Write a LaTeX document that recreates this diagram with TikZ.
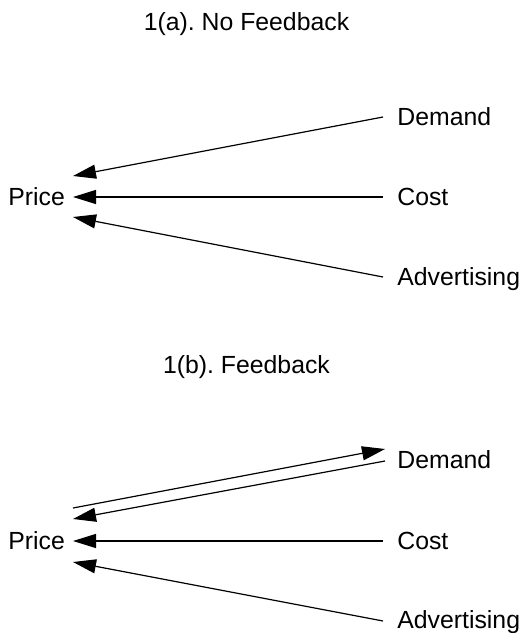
\documentclass[tikz,border=0pt]{standalone}
\usepackage{fontspec}
\setmainfont{Liberation Sans}
\usetikzlibrary{arrows.meta}
\frenchspacing
\begin{document}
\begin{tikzpicture}[x=0.5pt,y=-0.5pt,
  lbl/.style={anchor=base west,inner sep=0pt,font=\fontsize{12.4pt}{14pt}\selectfont},
  ttl/.style={anchor=base,inner sep=0pt,font=\fontsize{12.4pt}{14pt}\selectfont},
  arr/.style={line width=0.6pt,-{Triangle[length=11.5pt,width=7pt]}}]
\useasboundingbox (0,0) rectangle (527,633);
% ---- 1(a)
\node[ttl] (ta) at (246.5,30) {1(a). No Feedback};
\node[lbl] (pa) at (8,205.5) {Price};
\node[lbl] (da) at (397,125.5) {Demand};
\node[lbl] (ca) at (397,205.5) {Cost};
\node[lbl] (aa) at (397,285.5) {Advertising};
\coordinate (da0) at (383,117);
\coordinate (ca0) at (383,197);
\coordinate (aa0) at (383,277);
\coordinate (pad) at (73,176);
\coordinate (pac) at (73,197);
\coordinate (paa) at (73,217);
\draw[arr] (da0) -- (pad);
\draw[arr] (ca0) -- (pac);
\draw[arr] (aa0) -- (paa);
% ---- 1(b)
\node[ttl] (tb) at (246.5,373) {1(b). Feedback};
\node[lbl] (pb) at (8,549.5) {Price};
\node[lbl] (db) at (397,468.5) {Demand};
\node[lbl] (cb) at (397,549.5) {Cost};
\node[lbl] (ab) at (397,628.5) {Advertising};
\coordinate (pbu) at (73,508);
\coordinate (dbu) at (385,449);
\coordinate (db0) at (385,461);
\coordinate (pbd) at (73,519);
\coordinate (cb0) at (383,541);
\coordinate (pbc) at (73,541);
\coordinate (ab0) at (383,621);
\coordinate (pba) at (73,562);
\draw[arr] (pbu) -- (dbu);
\draw[arr] (db0) -- (pbd);
\draw[arr] (cb0) -- (pbc);
\draw[arr] (ab0) -- (pba);
\end{tikzpicture}
\end{document}
